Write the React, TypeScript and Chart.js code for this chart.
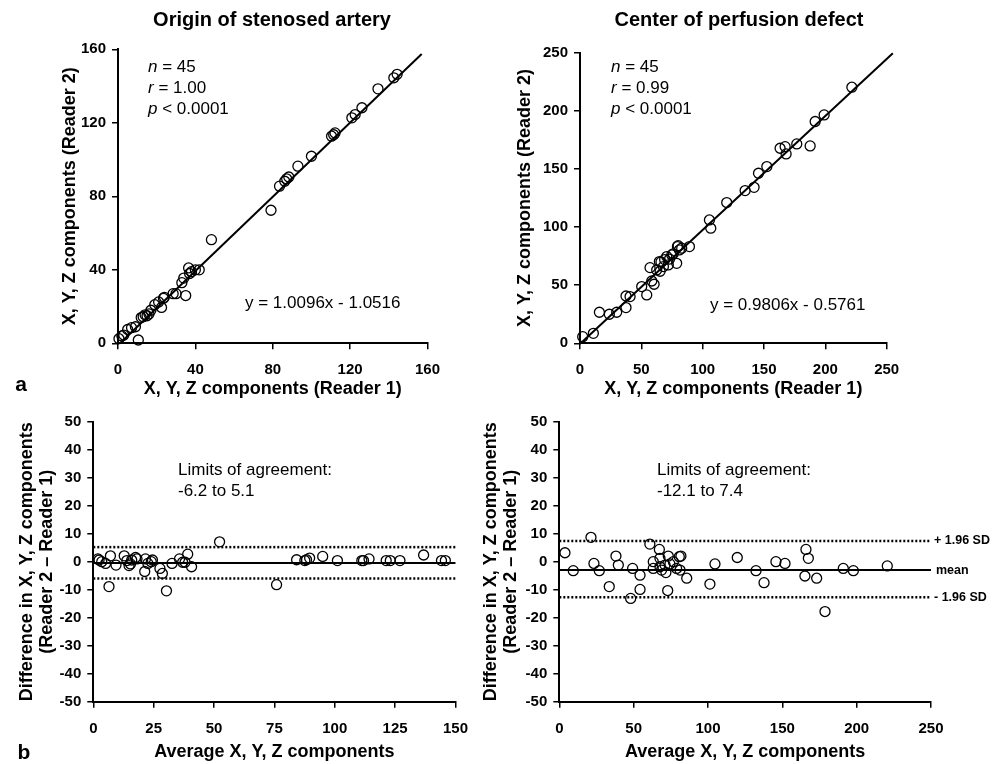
import React, { useEffect, useRef } from "react";
import { Chart, registerables } from "chart.js";

Chart.register(...registerables);

const FONT = '"Liberation Sans", Arial, Helvetica, sans-serif';

// ---------- Panel a (left): origin of stenosed artery ----------
const originReader1 = [0.5, 2, 3, 5, 7, 9, 10.5, 12, 13, 14, 15, 16, 17, 19, 21, 22.5, 23.5, 24, 28.5, 30, 33, 34, 35, 36.5, 37, 38, 40, 42, 48.3, 79.1, 83.5, 86.2, 87.2, 88.3, 93, 100, 110.4, 111.5, 112.2, 120.9, 122.6, 126.1, 134.4, 142.6, 144.3];
const originReader2 = [2.5, 4, 4.5, 7.5, 8.5, 9, 1.8, 14, 14.5, 15.5, 15, 16, 18, 21, 22.5, 19.5, 24.5, 25, 27, 27, 33, 35.5, 26, 41, 38, 39, 40, 40, 56.4, 72.4, 85.5, 88.2, 89.5, 90.5, 96.4, 101.8, 112.7, 113.5, 114.5, 122.7, 124.5, 128.2, 138.5, 144.5, 146.4];
const originSlope = 1.0096;
const originIntercept = -1.0516;
const originFitFrom = 1.04;
const originFitTo = 157;

// ---------- Panel a (right): center of perfusion defect ----------
const centerReader1 = [2.2, 10.9, 15.8, 23.9, 29.9, 37.5, 37.5, 40.8, 50.3, 54.4, 57.1, 58.5, 60.4, 62.5, 64.7, 65.3, 66, 68, 69, 70.7, 72, 73, 74.8, 76, 78.8, 79.4, 80, 81, 82.9, 89.2, 105.5, 106.6, 119.6, 134.6, 141.9, 145.5, 152.3, 163.1, 167.2, 168, 176.7, 187.6, 191.7, 199, 221.6];
const centerReader2 = [5.7, 8.6, 26.7, 25, 26.7, 40.7, 30.7, 40.2, 48.8, 41.6, 65.1, 53.6, 50.8, 63.1, 70.3, 62, 70, 66, 72, 74.6, 67.4, 72.5, 76, 77, 68.8, 83.2, 84, 80.3, 81.8, 83.2, 106.1, 99, 121.1, 131.4, 134.2, 146.3, 152, 167.8, 169.2, 162.9, 171.5, 169.8, 190.8, 196.5, 220.3];
const centerSlope = 0.9806;
const centerIntercept = -0.5761;
const centerFitFrom = 0.6;
const centerFitTo = 255;

// ---------- Panel b (left): Bland-Altman origin ----------
const originAverage = [1.9, 2.4, 3.5, 5.1, 6.5, 7.1, 9.4, 12.8, 13.9, 14.8, 15.4, 15.9, 17.5, 18.1, 21.3, 21.6, 22.6, 24, 24.5, 27.6, 28.6, 30.3, 32.6, 35.7, 37, 38, 39.1, 40.7, 52.3, 75.9, 84.2, 87.6, 88.3, 89.6, 95, 101.1, 111.2, 111.9, 114.2, 121.3, 123, 127, 136.8, 144.2, 145.8];
const originDifference = [1, 0.6, 0, -0.6, -8.9, 2.1, -1.2, 2.1, 0.4, -1.4, -0.8, 0.6, 1.5, 1, -3.5, 1, -0.6, 0, 0.6, -2.4, -4.2, -10.4, -0.6, 1, -0.2, -0.2, 2.7, -1.8, 7.1, -8.2, 0.7, 0.4, 0.7, 1.3, 1.9, 0.4, 0.4, 0.4, 1, 0.4, 0.4, 0.4, 2.4, 0.4, 0.4];
const originMean = -0.5;
const originUpper = 5.2;
const originLower = -6.0;
const originXMax = 150;

// ---------- Panel b (right): Bland-Altman center ----------
const centerAverage = [3.8, 9.4, 21.3, 23.3, 26.9, 33.6, 38.1, 39.7, 48, 49.3, 54.3, 54.3, 60.9, 63.2, 63.2, 67.3, 67.7, 67.7, 68.8, 71.1, 71.7, 72.9, 73.3, 74.4, 76.7, 78.9, 80.7, 81.2, 81.8, 85.7, 101.3, 104.7, 119.7, 132.3, 137.7, 145.7, 151.8, 165.9, 165.2, 167.5, 173.1, 178.7, 191, 197.8, 220.6];
const centerDifference = [3.2, -3.2, 8.7, -0.6, -3.2, -8.9, 2, -1.2, -13.1, -2.4, -4.8, -9.9, 6.3, 0, -2.4, 4.4, 1.2, -1.8, -3, -1.2, -3.9, -10.3, 2, -0.8, 0, -2.4, 1.8, -3, 2, -5.9, -8, -0.8, 1.5, -3.2, -7.5, 0, -0.6, 4.4, -5.1, 1.2, -5.9, -17.8, -2.4, -3.2, -1.5];
const centerMean = -3.0;
const centerUpper = 7.4;
const centerLower = -12.7;
const centerXMax = 250;

const readerTitleX = "X, Y, Z components (Reader 1)";
const readerTitleY = "X, Y, Z components (Reader 2)";
const diffTitle = ["Difference in X, Y, Z components", "(Reader 2 \u2013 Reader 1)"];
const avgTitle = "Average X, Y, Z components";

type Seg = { t: string; font: string };
type TextItem = { segs: Seg[]; x: number; y?: number; yValue?: number; align?: "left" | "center" };

const reg = (s: number) => `${s}px ${FONT}`;
const bold = (s: number) => `bold ${s}px ${FONT}`;
const ital = (s: number) => `italic ${s}px ${FONT}`;

function axis(min: number, max: number, step: number, title: string | string[], size: number, horizontal: boolean) {
  return {
    type: "linear" as const,
    min,
    max,
    ticks: {
      stepSize: step,
      color: "#000",
      font: { family: FONT, size: 15, weight: "bold" as const },
      padding: horizontal ? 12 : 6,
      autoSkip: false,
      maxRotation: 0,
    },
    grid: { drawOnChartArea: false, drawTicks: true, tickLength: 6, color: "#000", lineWidth: 1.5 },
    border: { display: true, color: "#000", width: 2 },
    title: {
      display: true,
      text: title,
      color: "#000",
      font: { family: FONT, size: 18, weight: "bold" as const, lineHeight: 1.1 },
      padding: 0,
    },
    afterFit: (s: any) => {
      if (horizontal) s.height = size;
      else s.width = size;
    },
  };
}

type Panel = {
  left: number;
  top: number;
  width: number;
  height: number;
  padding: { top: number; left: number; right: number; bottom: number };
  yWidth: number;
  xHeight: number;
  xAxis: [number, number, number, string | string[]];
  yAxis: [number, number, number, string | string[]];
  datasets: any[];
  texts: TextItem[];
};

const pts = (xs: number[], ys: number[]) => xs.map((x, i) => ({ x, y: ys[i] }));

const pointSet = (xs: number[], ys: number[]) => ({
  data: pts(xs, ys),
  showLine: false,
  pointStyle: "circle",
  pointRadius: 5,
  pointBackgroundColor: "rgba(0,0,0,0)",
  pointBorderColor: "#000",
  pointBorderWidth: 1.3,
  clip: false,
});

const fitSet = (slope: number, intercept: number, from: number, to: number) => ({
  data: [
    { x: from, y: slope * from + intercept },
    { x: to, y: slope * to + intercept },
  ],
  showLine: true,
  borderColor: "#000",
  borderWidth: 2,
  pointRadius: 0,
  clip: false,
});

const hLine = (value: number, xMax: number, dashed: boolean) => ({
  data: [
    { x: 0, y: value },
    { x: xMax, y: value },
  ],
  showLine: true,
  borderColor: "#000",
  borderWidth: dashed ? 2.5 : 2,
  borderDash: dashed ? [2, 2] : [],
  pointRadius: 0,
  clip: false,
});

const statsText = (x: number, r: string): TextItem[] => [
  { segs: [{ t: "n", font: ital(17) }, { t: " = 45", font: reg(17) }], x, y: 67 },
  { segs: [{ t: "r", font: ital(17) }, { t: " = " + r, font: reg(17) }], x, y: 88 },
  { segs: [{ t: "p", font: ital(17) }, { t: " < 0.0001", font: reg(17) }], x, y: 109 },
];

const panels: Panel[] = [
  {
    left: 0, top: 0, width: 480, height: 405,
    padding: { top: 49.3, left: 60.1, right: 52.5, bottom: 6.1 },
    yWidth: 57.9, xHeight: 55.6,
    xAxis: [0, 160, 40, readerTitleX],
    yAxis: [0, 160, 40, readerTitleY],
    datasets: [fitSet(originSlope, originIntercept, originFitFrom, originFitTo), pointSet(originReader1, originReader2)],
    texts: [
      { segs: [{ t: "Origin of stenosed artery", font: bold(20) }], x: 272, y: 20, align: "center" },
      ...statsText(148, "1.00"),
      { segs: [{ t: "y = 1.0096x - 1.0516", font: reg(17) }], x: 245, y: 303 },
      { segs: [{ t: "a", font: bold(21) }], x: 21, y: 385, align: "center" },
    ],
  },
  {
    left: 480, top: 0, width: 525, height: 405,
    padding: { top: 52.7, left: 35.1, right: 118.3, bottom: 6.1 },
    yWidth: 64.9, xHeight: 55.6,
    xAxis: [0, 250, 50, readerTitleX],
    yAxis: [0, 250, 50, readerTitleY],
    datasets: [fitSet(centerSlope, centerIntercept, centerFitFrom, centerFitTo), pointSet(centerReader1, centerReader2)],
    texts: [
      { segs: [{ t: "Center of perfusion defect", font: bold(20) }], x: 739, y: 20, align: "center" },
      ...statsText(611, "0.99"),
      { segs: [{ t: "y = 0.9806x - 0.5761", font: reg(17) }], x: 710, y: 305 },
    ],
  },
  {
    left: 0, top: 405, width: 480, height: 359,
    padding: { top: 16.7, left: 17.1, right: 15.7, bottom: 2.1 },
    yWidth: 76.2, xHeight: 60.2,
    xAxis: [0, 150, 25, avgTitle],
    yAxis: [-50, 50, 10, diffTitle],
    datasets: [
      hLine(originUpper, originXMax, true),
      hLine(originMean, originXMax, false),
      hLine(originLower, originXMax, true),
      pointSet(originAverage, originDifference),
    ],
    texts: [
      { segs: [{ t: "Limits of agreement:", font: reg(17) }], x: 178, y: 470 },
      { segs: [{ t: "-6.2 to 5.1", font: reg(17) }], x: 178, y: 491 },
      { segs: [{ t: "b", font: bold(21) }], x: 24, y: 753, align: "center" },
    ],
  },
  {
    left: 480, top: 405, width: 525, height: 359,
    padding: { top: 16.7, left: 1.1, right: 74, bottom: 2.1 },
    yWidth: 78.2, xHeight: 60.2,
    xAxis: [0, 250, 50, avgTitle],
    yAxis: [-50, 50, 10, diffTitle],
    datasets: [
      hLine(centerUpper, centerXMax, true),
      hLine(centerMean, centerXMax, false),
      hLine(centerLower, centerXMax, true),
      pointSet(centerAverage, centerDifference),
    ],
    texts: [
      { segs: [{ t: "Limits of agreement:", font: reg(17) }], x: 657, y: 470 },
      { segs: [{ t: "-12.1 to 7.4", font: reg(17) }], x: 657, y: 491 },
      { segs: [{ t: "+ 1.96 SD", font: bold(12.5) }], x: 934, yValue: centerUpper },
      { segs: [{ t: "mean", font: bold(12.5) }], x: 936, yValue: centerMean },
      { segs: [{ t: "- 1.96 SD", font: bold(12.5) }], x: 934, yValue: centerLower },
    ],
  },
];

function makeTextPlugin(panel: Panel) {
  return {
    id: "panelTexts",
    afterDraw(chart: any) {
      const ctx = chart.ctx as CanvasRenderingContext2D;
      ctx.save();
      ctx.fillStyle = "#000";
      ctx.textBaseline = "middle";
      ctx.textAlign = "left";
      for (const item of panel.texts) {
        const widths = item.segs.map((s) => {
          ctx.font = s.font;
          return ctx.measureText(s.t).width;
        });
        const total = widths.reduce((a, b) => a + b, 0);
        let x = item.x - panel.left;
        if (item.align === "center") x -= total / 2;
        const y = item.yValue !== undefined ? chart.scales.y.getPixelForValue(item.yValue) : (item.y as number) - panel.top;
        item.segs.forEach((s, i) => {
          ctx.font = s.font;
          ctx.fillText(s.t, x, y);
          x += widths[i];
        });
      }
      ctx.restore();
    },
  };
}

function PanelChart({ panel }: { panel: Panel }) {
  const ref = useRef<HTMLCanvasElement | null>(null);
  useEffect(() => {
    if (!ref.current) return;
    const chart = new Chart(ref.current, {
      type: "scatter",
      data: { datasets: panel.datasets },
      options: {
        responsive: false,
        animation: false,
        devicePixelRatio: 1,
        layout: { padding: panel.padding },
        plugins: { legend: { display: false }, tooltip: { enabled: false }, title: { display: false } },
        scales: {
          x: { ...axis(panel.xAxis[0], panel.xAxis[1], panel.xAxis[2], panel.xAxis[3], panel.xHeight, true), position: "bottom" },
          y: { ...axis(panel.yAxis[0], panel.yAxis[1], panel.yAxis[2], panel.yAxis[3], panel.yWidth, false), position: "left" },
        },
      } as any,
      plugins: [makeTextPlugin(panel)],
    });
    return () => chart.destroy();
  }, [panel]);
  return (
    <canvas
      ref={ref}
      width={panel.width}
      height={panel.height}
      style={{ position: "absolute", left: panel.left, top: panel.top, width: panel.width, height: panel.height }}
    />
  );
}

export default function App() {
  return (
    <div style={{ position: "absolute", left: 0, top: 0, width: 1005, height: 764, background: "#fff", overflow: "hidden" }}>
      {panels.map((p, i) => (
        <PanelChart key={i} panel={p} />
      ))}
    </div>
  );
}
